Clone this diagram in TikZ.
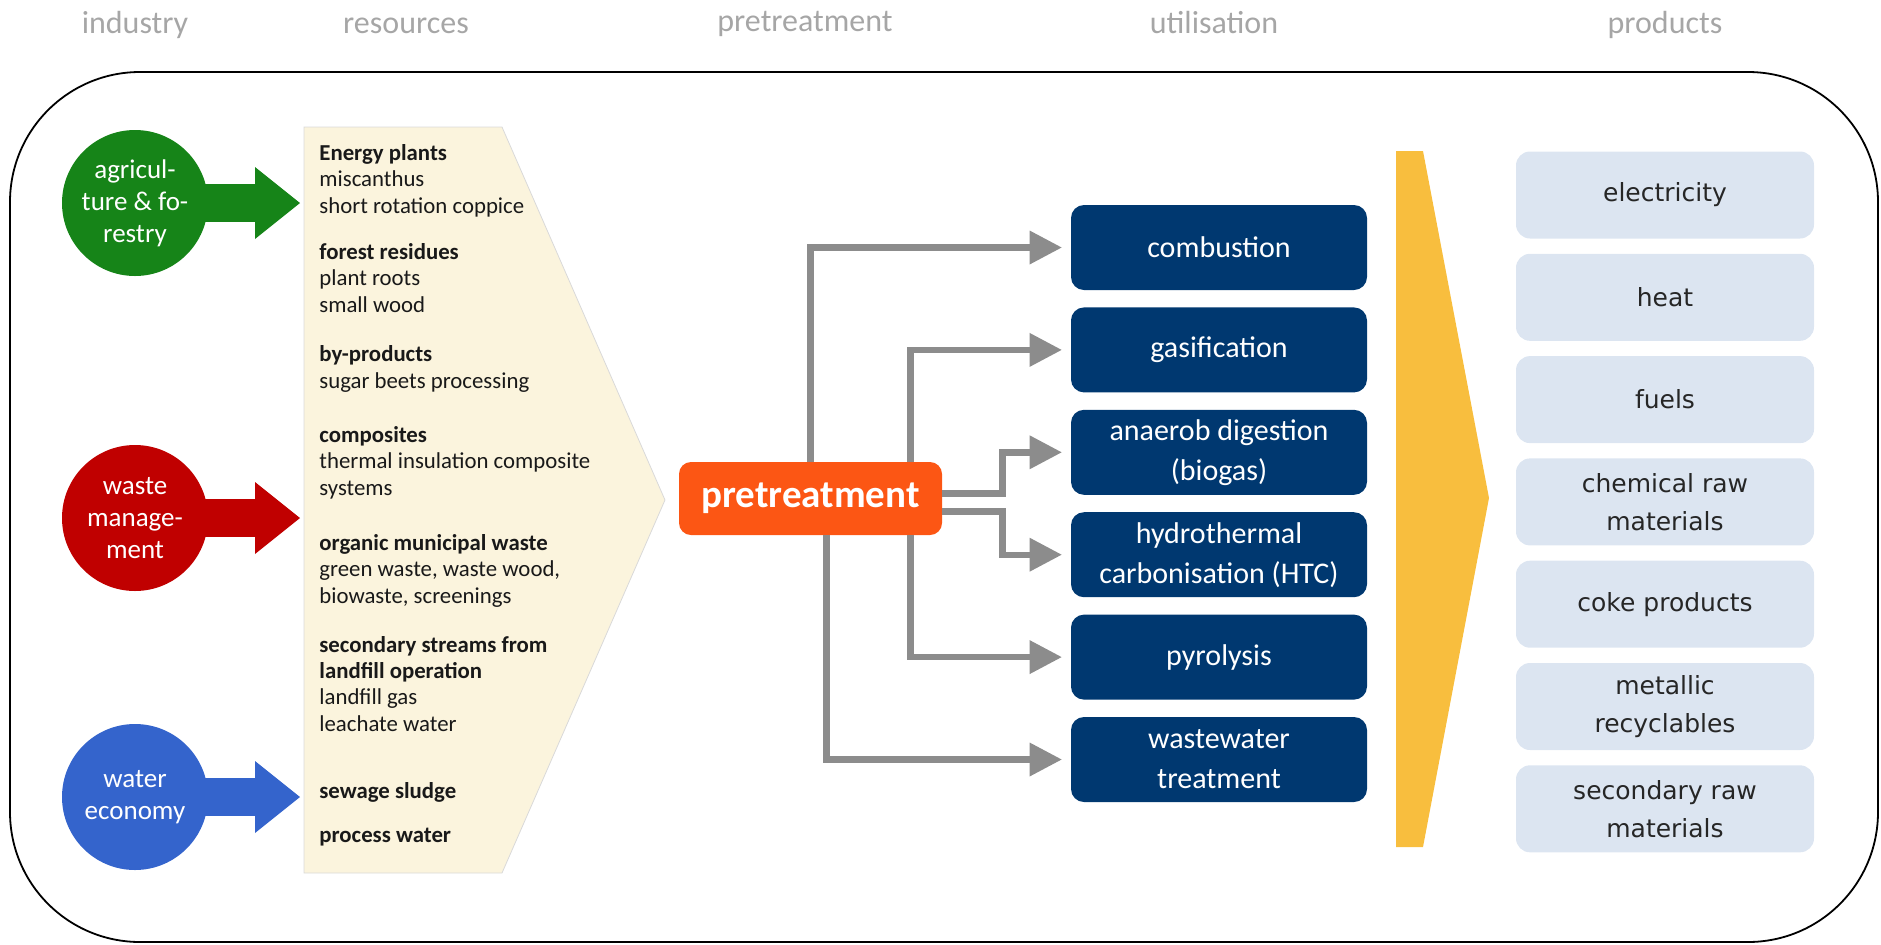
\documentclass[tikz,border=0pt]{standalone}
\usepackage{fontspec}
\setmainfont{Carlito}
\newfontfamily\prodfont{DejaVu Sans}
\usetikzlibrary{arrows.meta, positioning, calc}

\definecolor{headgray}{RGB}{166,166,166}
\definecolor{agrigreen}{RGB}{22,132,24}
\definecolor{wastered}{RGB}{192,0,0}
\definecolor{waterblue}{RGB}{52,100,204}
\definecolor{panelcream}{RGB}{251,244,221}
\definecolor{preorange}{RGB}{252,86,20}
\definecolor{utilnavy}{RGB}{0,56,112}
\definecolor{flowgray}{RGB}{140,140,140}
\definecolor{chevyellow}{RGB}{248,190,62}
\definecolor{prodblue}{RGB}{220,229,241}

\begin{document}
\begin{tikzpicture}
            [x=0.5pt, y=-0.5pt, node distance=8pt,
            header/.style={anchor=base, text=headgray, font=\fontsize{16}{18}\selectfont},
            industry/.style={circle, minimum size=73pt, inner sep=0pt, align=center, text=white,
                             font=\fontsize{13.5}{16}\selectfont},
            resource/.style={anchor=base west, align=left, inner sep=0pt, text=black!90,
                             font=\fontsize{11.4}{13.1}\selectfont},
            util/.style={rectangle, rounded corners=6.5pt, fill=utilnavy, text=white, align=center,
                         minimum width=148pt, minimum height=42.5pt, inner sep=0pt,
                         font=\fontsize{15}{20}\selectfont},
            product/.style={rectangle, rounded corners=7pt, fill=prodblue, text=black!85, align=center,
                            minimum width=149pt, minimum height=43.5pt, inner sep=0pt,
                            font=\prodfont\fontsize{12.5}{19}\selectfont},
            flow/.style={draw=flowgray, line width=3.2pt, shorten >=4.5pt,
                         -{Triangle[length=16pt, width=17pt, line width=0pt]}},
            blockarrow/.style={line width=19pt, -{Triangle[length=22.5pt, width=36pt, line width=0pt]}}]

            \useasboundingbox (0,0) rectangle (1881,944);

            % column titles
            \node[header] (hind) at (135,33) {industry};
            \node[header] (hres) at (406,33) {resources};
            \node[header] (hpre) at (805,31) {pretreatment};
            \node[header] (huti) at (1214,33) {utilisation};
            \node[header] (hpro) at (1665,33) {products};

            \draw[line width=0.9pt, rounded corners=65pt] (10,72) rectangle (1878,942);

            % resources (base = last line)
            \draw[fill=panelcream, draw=black!15] (304,127) -- (502,127) -- (665,500)
                -- (502,873) -- (304,873) -- cycle;
            \coordinate (res) at (300,0);

            \node[resource] (energy) at (319,213) {\textbf{Energy plants}\\miscanthus\\short rotation coppice};
            \node[resource] (forest) at (319,312) {\textbf{forest residues}\\plant roots\\small wood};
            \node[resource] (byprod) at (319,388) {\textbf{by-products}\\sugar beets processing};
            \node[resource] (compos) at (319,495) {\textbf{composites}\\thermal insulation composite\\systems};
            \node[resource] (organic) at (319,603) {\textbf{organic municipal waste}\\green waste, waste wood,\\biowaste, screenings};
            \node[resource] (landfill) at (319,731) {\textbf{secondary streams from}\\\textbf{landfill operation}\\landfill gas\\leachate water};
            \node[resource] (sewage) at (319,798) {\textbf{sewage sludge}};
            \node[resource] (procw) at (319,842) {\textbf{process water}};

            % industry
            \node[industry, fill=agrigreen] (agri) at (135,203) {agricul-\\ture \& fo-\\restry};
            \node[industry, fill=wastered] (waste) at (135,518) {waste\\manage-\\ment};
            \node[industry, fill=waterblue] (water) at (135,797) {water\\economy};

            \draw[blockarrow, agrigreen] ([xshift=-4pt]agri.east) -- (agri -| res);
            \draw[blockarrow, wastered] ([xshift=-4pt]waste.east) -- (waste -| res);
            \draw[blockarrow, waterblue] ([xshift=-4pt]water.east) -- (water -| res);

            % pretreatment
            \node[rectangle, rounded corners=6pt, fill=preorange, text=white, minimum width=131.5pt,
                  minimum height=36.5pt, inner sep=0pt, font=\bfseries\fontsize{19.5}{22}\selectfont]
                  (pre) at (810.5,498.5) {pretreatment};

            % utilisation
            \node[util] (comb) at (1219,247.5) {combustion};
            \node[util] (gasi) [below=8.3pt of comb] {gasification};
            \node[util] (anae) [below=8.3pt of gasi] {anaerob digestion\\(biogas)};
            \node[util] (htc) [below=8.3pt of anae] {hydrothermal\\carbonisation (HTC)};
            \node[util] (pyro) [below=8.3pt of htc] {pyrolysis};
            \node[util] (wast) [below=8.3pt of pyro] {wastewater\\treatment};

            \draw[flow] (pre.north) |- (comb.west);
            \draw[flow] ([xshift=50pt]pre.north) |- (gasi.west);
            \draw[flow] ([yshift=2.5pt]pre.east) -- ++(60,0) |- (anae.west);
            \draw[flow] ([yshift=-6.5pt]pre.east) -- ++(60,0) |- (htc.west);
            \draw[flow] ([xshift=50pt]pre.south) |- (pyro.west);
            \draw[flow] ([xshift=8pt]pre.south) |- (wast.west);

            \fill[chevyellow] (1396,151) -- (1423,151) -- (1489,498) -- (1423,847) -- (1396,847) -- cycle;

            % products
            \node[product] (elec) at (1665,195) {electricity};
            \node[product] (heat) [below=7.25pt of elec] {heat};
            \node[product] (fuel) [below=7.25pt of heat] {fuels};
            \node[product] (chem) [below=7.25pt of fuel] {chemical raw\\materials};
            \node[product] (coke) [below=7.25pt of chem] {coke products};
            \node[product] (metal) [below=7.25pt of coke] {metallic\\recyclables};
            \node[product] (second) [below=7.25pt of metal] {secondary raw\\materials};

          \end{tikzpicture}
\end{document}
